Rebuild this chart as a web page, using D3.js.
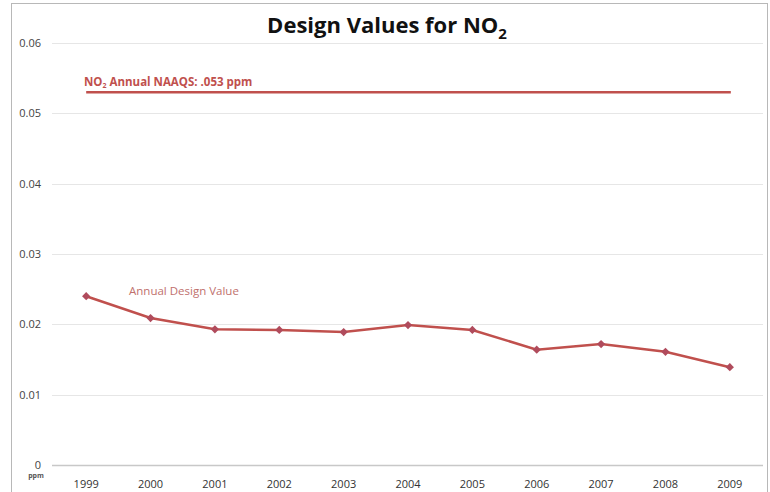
<!DOCTYPE html>
<html>
<head>
<meta charset="utf-8">
<script src="https://cdn.jsdelivr.net/npm/d3@7"></script>
<style>
  body { margin: 0; background: #fff; }
  text { font-family: "Open Sans", "Noto Sans", sans-serif; }
</style>
</head>
<body>
<div id="chart"></div>
<script>
// data
const years = ["1999", "2000", "2001", "2002", "2003", "2004", "2005", "2006", "2007", "2008", "2009"];
const designValues = [0.024, 0.0209, 0.0193, 0.0192, 0.0189, 0.0199, 0.0192, 0.0164, 0.0172, 0.0161, 0.0139];
const naaqs = 0.053;
const yTicks = [0, 0.01, 0.02, 0.03, 0.04, 0.05, 0.06];

const width = 770, height = 492;
const red = "#c0504d";

const svg = d3.select("#chart").append("svg")
    .attr("width", width)
    .attr("height", height);

// chart frame
svg.append("rect")
    .attr("x", 11.5).attr("y", 3.5)
    .attr("width", 756).attr("height", 500)
    .attr("fill", "none")
    .attr("stroke", "#b8b8b8");

const x = d3.scaleBand().domain(years).range([54, 762]);
const y = d3.scaleLinear().domain([0, 0.06]).range([465, 43]);
const cx = d => x(d) + x.bandwidth() / 2;

// gridlines
svg.append("g")
    .selectAll("line")
    .data(yTicks)
    .enter().append("line")
    .attr("x1", 52).attr("x2", 763)
    .attr("y1", d => Math.round(y(d)) + 0.5)
    .attr("y2", d => Math.round(y(d)) + 0.5)
    .attr("stroke", d => d === 0 ? "#c8c8c8" : "#e6e6e6")
    .attr("stroke-width", d => d === 0 ? 1.5 : 1);

// y labels
svg.append("g")
    .selectAll("text")
    .data(yTicks)
    .enter().append("text")
    .attr("x", 41)
    .attr("y", d => y(d) + 4)
    .attr("text-anchor", "end")
    .attr("font-size", 11)
    .attr("fill", "#444")
    .text(d => d === 0 ? "0" : d3.format(".2f")(d));

svg.append("text")
    .attr("x", 36).attr("y", 478)
    .attr("text-anchor", "middle")
    .attr("font-size", 7)
    .attr("font-weight", "bold")
    .attr("fill", "#555")
    .text("ppm");

// x labels
svg.append("g")
    .selectAll("text")
    .data(years)
    .enter().append("text")
    .attr("x", d => cx(d))
    .attr("y", 488)
    .attr("text-anchor", "middle")
    .attr("font-size", 11)
    .attr("fill", "#333")
    .text(d => d);

// title
const title = svg.append("text")
    .attr("x", 387).attr("y", 33)
    .attr("text-anchor", "middle")
    .attr("font-size", 22)
    .attr("font-weight", "bold")
    .attr("fill", "#111");
title.append("tspan").text("Design Values for NO");
title.append("tspan").attr("font-size", 15).attr("dy", 6).text("2");

// NAAQS standard line
svg.append("line")
    .attr("x1", cx(years[0])).attr("x2", cx(years[years.length - 1]) + 1)
    .attr("y1", y(naaqs)).attr("y2", y(naaqs))
    .attr("stroke", red)
    .attr("stroke-width", 2.5);

const nlabel = svg.append("text")
    .attr("x", 84).attr("y", 86)
    .attr("font-size", 11.5)
    .attr("font-weight", "bold")
    .attr("fill", red);
nlabel.append("tspan").text("NO");
nlabel.append("tspan").attr("font-size", 7).attr("dy", 2).text("2");
nlabel.append("tspan").attr("dy", -2).text(" Annual NAAQS: .053 ppm");

// design value series
const line = d3.line()
    .x((d, i) => cx(years[i]))
    .y(d => y(d));

svg.append("path")
    .datum(designValues)
    .attr("d", line)
    .attr("fill", "none")
    .attr("stroke", red)
    .attr("stroke-width", 2.5);

svg.append("g")
    .selectAll("path")
    .data(designValues)
    .enter().append("path")
    .attr("d", d3.symbol().type(d3.symbolSquare).size(34))
    .attr("transform", (d, i) => `translate(${cx(years[i])},${y(d)}) rotate(45)`)
    .attr("fill", "#b04b5c");

svg.append("text")
    .attr("x", 129).attr("y", 295)
    .attr("font-size", 11.5)
    .attr("fill", "#c0706d")
    .text("Annual Design Value");
</script>
</body>
</html>
